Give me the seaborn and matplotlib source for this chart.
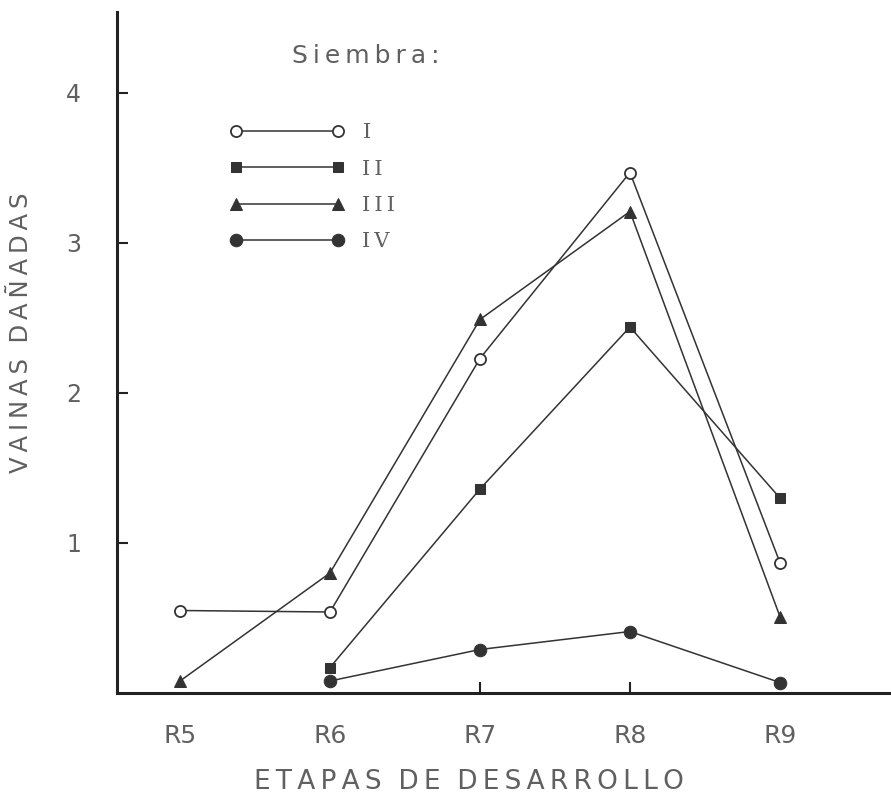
import matplotlib
matplotlib.use("Agg")
import matplotlib.pyplot as plt
import seaborn as sns
import numpy as np

stages = ["R5", "R6", "R7", "R8", "R9"]
series_names = ["I", "II", "III", "IV"]

x_I = ["R5", "R6", "R7", "R8", "R9"]
y_I = [0.55, 0.54, 2.23, 3.47, 0.87]
x_II = ["R6", "R7", "R8", "R9"]
y_II = [0.17, 1.36, 2.44, 1.30]
x_III = ["R5", "R6", "R7", "R8", "R9"]
y_III = [0.08, 0.80, 2.49, 3.21, 0.51]
x_IV = ["R6", "R7", "R8", "R9"]
y_IV = [0.08, 0.29, 0.41, 0.07]

yticks = [1, 2, 3, 4]
visible_xticks = ["R7", "R8"]

sns.set_style("white")
plt.rcParams["font.family"] = ["DejaVu Sans"]

TS = "\u2009"
def spaced(s, word_gap="  "):
    return word_gap.join(TS.join(w) for w in s.split(" "))

fig = plt.figure(figsize=(8.91, 7.94), dpi=100)
ax = fig.add_axes([117/891, 1 - 693/794, 1 - 117/891 + 0.01, (693 - 12) / 794])

lc = "#333333"
txt = "#606060"
pos = {s: i for i, s in enumerate(stages)}
styles = [
    dict(marker="o", markerfacecolor="white", markeredgecolor=lc, markersize=8, markeredgewidth=1.3),
    dict(marker="s", markerfacecolor=lc, markeredgecolor=lc, markersize=7.5),
    dict(marker="^", markerfacecolor=lc, markeredgecolor=lc, markersize=8.5),
    dict(marker="o", markerfacecolor=lc, markeredgecolor=lc, markersize=9),
]
data = [(x_I, y_I), (x_II, y_II), (x_III, y_III), (x_IV, y_IV)]
for name, (xs, ys), st in zip(series_names, data, styles):
    sns.lineplot(x=[pos[s] for s in xs], y=ys, ax=ax, color=lc, linewidth=1.1,
                 label=name, **st)

ax.set_xlim(-0.42, 4.8)
ax.set_ylim(0, 4.54)
ax.set_xticks(range(len(stages)))
ax.set_xticklabels(stages, fontsize=18, color=txt)
ax.set_yticks(yticks)
ax.set_yticklabels([str(v) for v in yticks], fontsize=17, color=txt)
ax.tick_params(axis="both", direction="in", length=8, width=1.5, color="#222222",
               bottom=True, left=True)
ax.tick_params(axis="y", pad=26)
ax.tick_params(axis="x", pad=22)
for s, tk in zip(stages, ax.xaxis.get_major_ticks()):
    if s not in visible_xticks:
        tk.tick1line.set_visible(False)

for side in ["top", "right"]:
    ax.spines[side].set_visible(False)
for side in ["left", "bottom"]:
    ax.spines[side].set_linewidth(2.2)
    ax.spines[side].set_color("#222222")

ax.set_xlabel(spaced("ETAPAS DE DESARROLLO"), fontsize=19, color=txt)
ax.set_ylabel(spaced("VAINAS DAÑADAS"), fontsize=17.5, color=txt)
ax.xaxis.set_label_coords(0.4495, -0.112)
ax.yaxis.set_label_coords(-0.107, 0.529)

ax.text(0.224, 0.936, spaced("Siembra:"), transform=ax.transAxes, fontsize=18,
        color=txt, va="center")

handles, labels = ax.get_legend_handles_labels()
leg = ax.legend(handles, [TS.join(l) for l in labels], loc="upper left",
                bbox_to_anchor=(0.1445, 0.8365),
                numpoints=2, handlelength=5.5, handletextpad=0.85, labelspacing=0.83,
                frameon=False, borderpad=0, borderaxespad=0,
                prop={"family": "DejaVu Serif", "size": 15})
for t in leg.get_texts():
    t.set_color(txt)

fig.savefig("out.png", dpi=100)
